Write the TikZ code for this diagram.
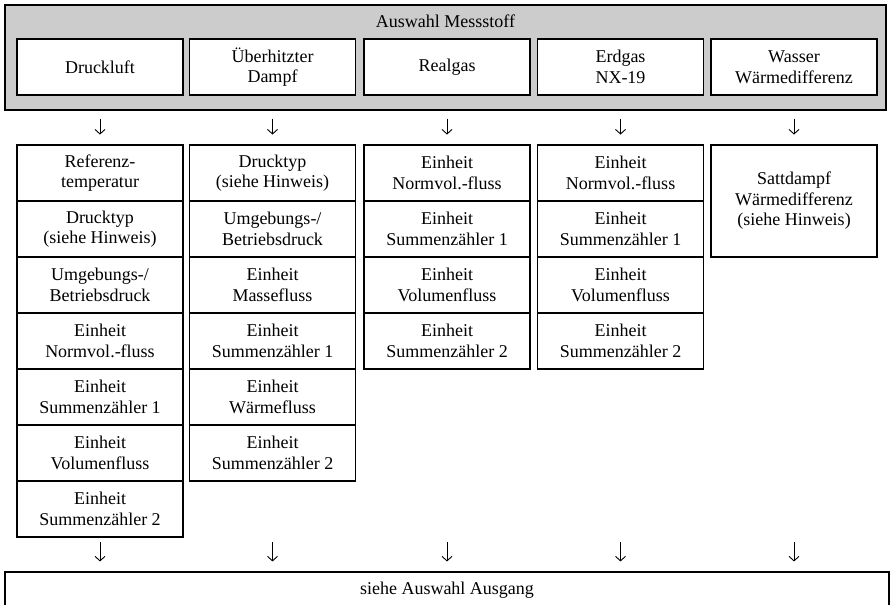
\documentclass[tikz,border=0pt]{standalone}
\usepackage{fontspec}
\setmainfont{Liberation Serif}
\usetikzlibrary{arrows.meta,calc}
\definecolor{selgray}{RGB}{204,204,204}
\begin{document}
\begin{tikzpicture}[x=1pt,y=1pt,
  txt/.style={font=\fontsize{18}{20.5}\selectfont, align=center},
  cell/.style={txt, draw, line width=1.1pt, fill=white, minimum width=166pt, minimum height=56pt, inner sep=0pt},
  arr/.style={line width=0.9pt, -{Straight Barb[length=4.5pt,width=10pt,line width=0.9pt]}}]
\clip (0,0) rectangle (892,-605);
\useasboundingbox (0,0) rectangle (892,-605);
% selection frame
\node[draw, line width=1.1pt, fill=selgray, minimum width=881pt, minimum height=105pt, inner sep=0pt] (sel) at (445.5,-57.5) {};
\node[txt] (title) at (445.5,-21) {Auswahl Messstoff};
% top boxes
\node[cell] (t1) at (100,-67) {Druckluft};
\node[cell] (t2) at (272.5,-67) {Überhitzter\\Dampf};
\node[cell] (t3) at (447,-67) {Realgas};
\node[cell] (t4) at (620.5,-67) {Erdgas\\NX-19};
\node[cell] (t5) at (794,-67) {Wasser\\Wärmedifferenz};
% column 1
\node[cell] (a1) at (100,-173) {Referenz-\\temperatur};
\node[cell] (a2) at (100,-229) {Drucktyp\\(siehe Hinweis)};
\node[cell] (a3) at (100,-285) {Umgebungs-/\\Betriebsdruck};
\node[cell] (a4) at (100,-341) {Einheit\\Normvol.-fluss};
\node[cell] (a5) at (100,-397) {Einheit\\Summenzähler 1};
\node[cell] (a6) at (100,-453) {Einheit\\Volumenfluss};
\node[cell] (a7) at (100,-509) {Einheit\\Summenzähler 2};
% column 2
\node[cell] (b1) at (272.5,-173) {Drucktyp\\(siehe Hinweis)};
\node[cell] (b2) at (272.5,-229) {Umgebungs-/\\Betriebsdruck};
\node[cell] (b3) at (272.5,-285) {Einheit\\Massefluss};
\node[cell] (b4) at (272.5,-341) {Einheit\\Summenzähler 1};
\node[cell] (b5) at (272.5,-397) {Einheit\\Wärmefluss};
\node[cell] (b6) at (272.5,-453) {Einheit\\Summenzähler 2};
% column 3
\node[cell] (c1) at (447,-173) {Einheit\\Normvol.-fluss};
\node[cell] (c2) at (447,-229) {Einheit\\Summenzähler 1};
\node[cell] (c3) at (447,-285) {Einheit\\Volumenfluss};
\node[cell] (c4) at (447,-341) {Einheit\\Summenzähler 2};
% column 4
\node[cell] (d1) at (620.5,-173) {Einheit\\Normvol.-fluss};
\node[cell] (d2) at (620.5,-229) {Einheit\\Summenzähler 1};
\node[cell] (d3) at (620.5,-285) {Einheit\\Volumenfluss};
\node[cell] (d4) at (620.5,-341) {Einheit\\Summenzähler 2};
% column 5
\node[cell, minimum height=112pt] (e1) at (794,-201) {Sattdampf\\Wärmedifferenz\\(siehe Hinweis)};
% output box
\node[cell, minimum width=884pt, minimum height=36pt] (out) at (447,-590) {siehe Auswahl Ausgang};
% arrows
\foreach \t in {t1,t2,t3,t4,t5}{
  \draw[arr] ($(\t.south)+(0,-23)$) -- ($(\t.south)+(0,-39)$);
  \draw[arr] ($(out.north -| \t.south)+(0,29)$) -- ($(out.north -| \t.south)+(0,10)$);
}
\end{tikzpicture}
\end{document}
